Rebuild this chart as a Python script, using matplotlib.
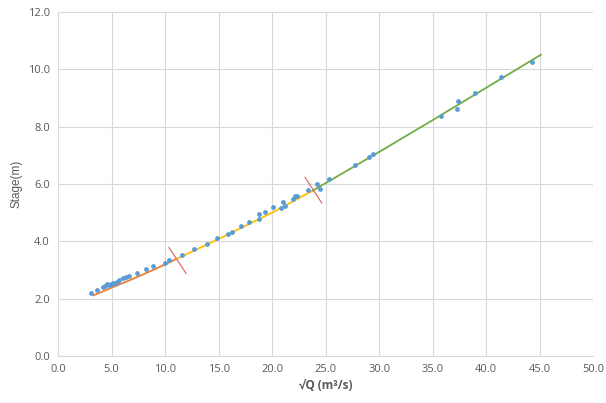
import numpy as np
import matplotlib.pyplot as plt

# Observed gaugings: sqrt(Q) vs stage
sqrt_q = [3.11, 3.65, 4.19, 4.37, 4.56, 4.74, 4.92, 5.10, 5.28, 5.46, 5.71, 6.07, 6.33, 6.62,
          7.34, 8.24, 8.89, 9.98, 10.34, 11.53, 12.65, 13.92, 14.82, 15.84, 16.23, 17.10,
          17.86, 18.73, 18.80, 19.31, 20.07, 20.82, 21.00, 21.15, 21.98, 22.16, 22.34,
          23.36, 24.22, 24.51, 25.27, 27.69, 29.07, 29.46, 35.79, 37.31, 37.38, 38.97,
          41.36, 44.32]
stage = [2.21, 2.30, 2.39, 2.44, 2.51, 2.47, 2.51, 2.53, 2.56, 2.59, 2.65, 2.71, 2.74, 2.79,
         2.88, 3.02, 3.14, 3.25, 3.36, 3.53, 3.72, 3.91, 4.12, 4.27, 4.32, 4.54,
         4.68, 4.94, 4.76, 5.01, 5.19, 5.16, 5.36, 5.23, 5.49, 5.58, 5.59,
         5.79, 5.99, 5.81, 6.17, 6.67, 6.94, 7.03, 8.36, 8.61, 8.89, 9.17,
         9.75, 10.25]

# Rating curve segments
low_x = [3.3, 5.0, 7.0, 9.0, 11.1]
low_y = [2.11, 2.38, 2.69, 3.02, 3.39]
mid_x = [11.1, 15.0, 20.0, 23.8]
mid_y = [3.39, 4.08, 5.00, 5.77]
high_x = [23.8, 30.0, 35.0, 40.0, 45.1]
high_y = [5.77, 7.12, 8.23, 9.36, 10.51]

# Break markers between segments
breaks = [([10.35, 11.95], [3.78, 2.88]), ([23.07, 24.62], [6.23, 5.34])]

plt.rcParams['font.family'] = ['Open Sans', 'DejaVu Sans']
fig = plt.figure(figsize=(6.06, 4.03), dpi=100)
ax = fig.add_axes([0.096, 0.117, 0.883, 0.853])

grid_c = '#D9D9D9'
ax.plot(low_x, low_y, color='#ED7D31', lw=1.3, zorder=2)
ax.plot(mid_x, mid_y, color='#FFC000', lw=1.3, zorder=2)
ax.plot(high_x, high_y, color='#70AD47', lw=1.3, zorder=2)
for bx, by in breaks:
    ax.plot(bx, by, color='#E46C6C', lw=0.9, zorder=2)
ax.scatter(sqrt_q, stage, s=12, color='#5B9BD5', zorder=3, linewidths=0)

ax.set_xlim(0, 50)
ax.set_ylim(0, 12)
ax.set_xticks(np.arange(0, 51, 5))
ax.set_yticks(np.arange(0, 13, 2))
ax.set_xticklabels([f'{v:.1f}' for v in np.arange(0, 51, 5)])
ax.set_yticklabels([f'{v:.1f}' for v in np.arange(0, 13, 2)])
ax.grid(True, color=grid_c, lw=0.8)
ax.set_axisbelow(True)
for s in ['top', 'right']:
    ax.spines[s].set_visible(False)
for s in ['left', 'bottom']:
    ax.spines[s].set_color(grid_c)
ax.tick_params(length=0, colors='#595959', labelsize=8, pad=6)

ax.set_xlabel('√Q (m³/s)', fontsize=8.5, color='#595959', fontweight='bold', labelpad=3)
ax.set_ylabel('Stage(m)', fontsize=8.5, color='#595959', family=['Liberation Sans', 'DejaVu Sans'], labelpad=4)

fig.savefig('out.png', dpi=100)
